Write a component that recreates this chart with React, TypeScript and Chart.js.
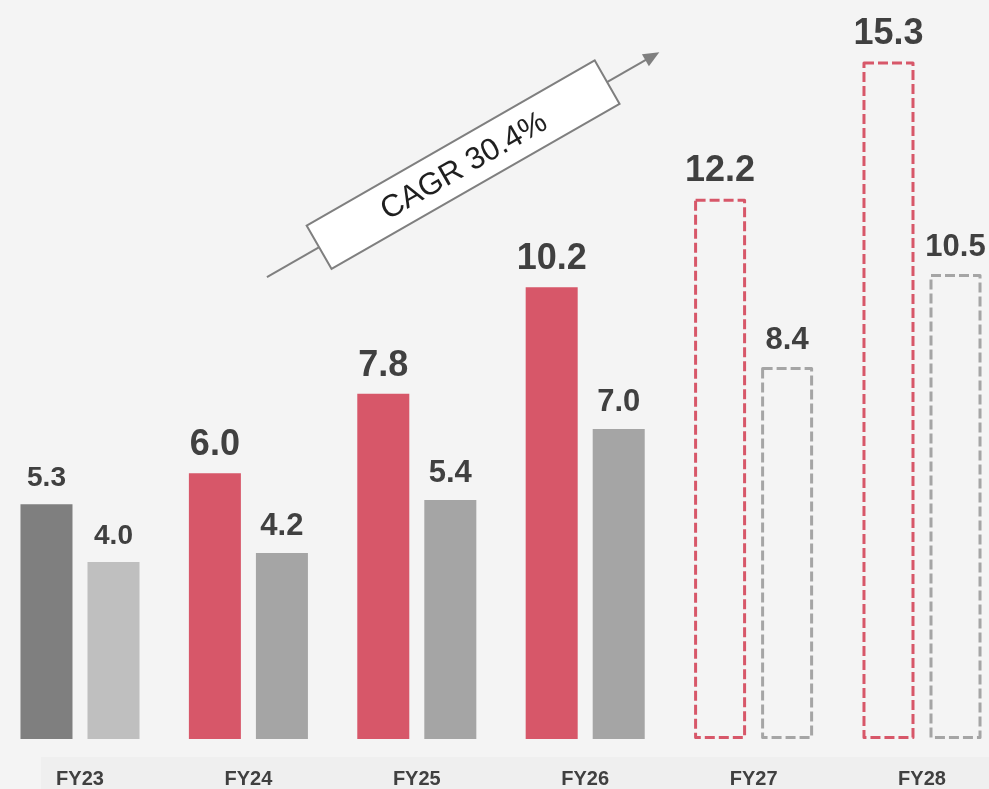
import React, { useEffect, useRef } from "react";
import { Chart, registerables } from "chart.js";

Chart.register(...registerables);

// ---- data ----
const categories = ["FY23", "FY24", "FY25", "FY26", "FY27", "FY28"];
const primaryValues = [5.3, 6.0, 7.8, 10.2, 12.2, 15.3];
const secondaryValues = [4.0, 4.2, 5.4, 7.0, 8.4, 10.5];
const projected = [false, false, false, false, true, true];
const cagrText = "CAGR 30.4%";
// arrow anchors in data space (category index, value)
const cagrStart = { x: 1.11, y: 10.43 };
const cagrEnd = { x: 3.44, y: 15.51 };

// ---- styles ----
const FONT = '"Liberation Sans", Arial, Helvetica, sans-serif';
const RED = "#d75769";
const GRAY = "#a5a5a5";
const DARK = "#7f7f7f";
const LIGHT = "#bfbfbf";
const BG = "#f4f4f4";
const BAND = "#efefef";
const TEXT = "#404040";
const primaryLabelSize = [28, 36, 36, 36, 36, 36];
const secondaryLabelSize = [28, 31, 31, 31, 31, 31];

const primaryColors = primaryValues.map((_, i) =>
  projected[i] ? "rgba(0,0,0,0)" : i === 0 ? DARK : RED
);
const secondaryColors = secondaryValues.map((_, i) =>
  projected[i] ? "rgba(0,0,0,0)" : i === 0 ? LIGHT : GRAY
);

const backgroundPlugin = {
  id: "bgPlugin",
  beforeDraw(chart: any) {
    const { ctx, width, height, chartArea } = chart;
    ctx.save();
    ctx.fillStyle = BG;
    ctx.fillRect(0, 0, width, height);
    ctx.fillStyle = BAND;
    ctx.fillRect(41, chartArea.bottom + 18, width - 41, height);
    ctx.restore();
  },
};

const dashedPlugin = {
  id: "dashedBars",
  afterDatasetsDraw(chart: any) {
    const ctx = chart.ctx;
    chart.data.datasets.forEach((_ds: any, di: number) => {
      const meta = chart.getDatasetMeta(di);
      meta.data.forEach((el: any, i: number) => {
        if (!projected[i]) return;
        const { x, y, base, width } = el.getProps(["x", "y", "base", "width"], true);
        ctx.save();
        ctx.strokeStyle = di === 0 ? RED : GRAY;
        ctx.lineWidth = 3;
        ctx.lineJoin = "round";
        ctx.setLineDash([10, 4]);
        ctx.strokeRect(x - width / 2 + 1.5, y + 1.5, width - 3, base - y - 3);
        ctx.restore();
      });
    });
  },
};

const labelPlugin = {
  id: "valueLabels",
  afterDatasetsDraw(chart: any) {
    const ctx = chart.ctx;
    chart.data.datasets.forEach((ds: any, di: number) => {
      const meta = chart.getDatasetMeta(di);
      const sizes = di === 0 ? primaryLabelSize : secondaryLabelSize;
      meta.data.forEach((el: any, i: number) => {
        const { x, y } = el.getProps(["x", "y"], true);
        ctx.save();
        ctx.fillStyle = TEXT;
        ctx.font = `bold ${sizes[i]}px ${FONT}`;
        ctx.textAlign = "center";
        ctx.textBaseline = "alphabetic";
        ctx.fillText(Number(ds.data[i]).toFixed(1), x, y - 18);
        ctx.restore();
      });
    });
  },
};

const cagrPlugin = {
  id: "cagrArrow",
  afterDraw(chart: any) {
    const { ctx, scales } = chart;
    const xs = scales.x;
    const ys = scales.y;
    const x1 = xs.getPixelForValue(cagrStart.x);
    const y1 = ys.getPixelForValue(cagrStart.y);
    const x2 = xs.getPixelForValue(cagrEnd.x);
    const y2 = ys.getPixelForValue(cagrEnd.y);
    const ang = Math.atan2(y2 - y1, x2 - x1);
    const len = Math.hypot(x2 - x1, y2 - y1);
    ctx.save();
    ctx.translate(x1, y1);
    ctx.rotate(ang);
    ctx.strokeStyle = "#7f7f7f";
    ctx.lineWidth = 2;
    ctx.beginPath();
    ctx.moveTo(0, 0);
    ctx.lineTo(len - 12, 0);
    ctx.stroke();
    ctx.fillStyle = "#7f7f7f";
    ctx.beginPath();
    ctx.moveTo(len, 0);
    ctx.lineTo(len - 16, -7);
    ctx.lineTo(len - 16, 7);
    ctx.closePath();
    ctx.fill();
    const bw = 332;
    const bh = 50;
    const cx = len / 2;
    ctx.fillStyle = "#ffffff";
    ctx.fillRect(cx - bw / 2, -bh / 2, bw, bh);
    ctx.strokeStyle = "#7f7f7f";
    ctx.lineWidth = 2;
    ctx.strokeRect(cx - bw / 2, -bh / 2, bw, bh);
    ctx.fillStyle = "#1f1f1f";
    ctx.font = `31px ${FONT}`;
    ctx.textAlign = "center";
    ctx.textBaseline = "middle";
    ctx.fillText(cagrText, cx, 2);
    ctx.restore();
  },
};

export default function App() {
  const canvasRef = useRef<HTMLCanvasElement | null>(null);

  useEffect(() => {
    const canvas = canvasRef.current;
    if (!canvas) return;
    const chart = new Chart(canvas, {
      type: "bar",
      data: {
        labels: categories,
        datasets: [
          {
            label: "Primary",
            data: primaryValues,
            backgroundColor: primaryColors,
            borderWidth: 0,
            clip: false as any,
          },
          {
            label: "Secondary",
            data: secondaryValues,
            backgroundColor: secondaryColors,
            borderWidth: 0,
            clip: false as any,
          },
        ],
      },
      options: {
        responsive: false,
        animation: false,
        events: [],
        layout: { padding: { left: 80, right: 67, top: 0, bottom: 0 } },
        datasets: {
          bar: { categoryPercentage: 0.796, barPercentage: 0.776 },
        } as any,
        plugins: {
          legend: { display: false },
          tooltip: { enabled: false },
        },
        scales: {
          x: {
            offset: false,
            grid: { display: false, drawTicks: false },
            border: { display: false },
            ticks: {
              padding: 30,
              color: TEXT,
              autoSkip: false,
              maxRotation: 0,
              font: { family: FONT, size: 20, weight: "bold", lineHeight: 1 },
            },
          },
          y: { display: false, min: 0, max: 16.69 },
        },
      },
      plugins: [backgroundPlugin, dashedPlugin, labelPlugin, cagrPlugin],
    });
    return () => chart.destroy();
  }, []);

  return (
    <div style={{ position: "fixed", left: 0, top: 0, width: 989, height: 819 }}>
      <canvas ref={canvasRef} width={989} height={819} style={{ display: "block" }} />
    </div>
  );
}
